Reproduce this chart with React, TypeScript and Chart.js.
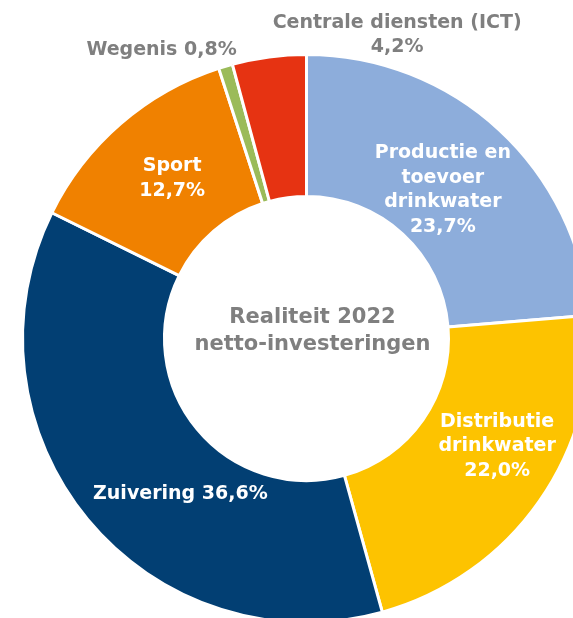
import React, { useEffect, useRef } from "react";
import { Chart, registerables } from "chart.js";

Chart.register(...registerables);

const categories = [
  "Productie en toevoer drinkwater",
  "Distributie drinkwater",
  "Zuivering",
  "Sport",
  "Wegenis",
  "Centrale diensten (ICT)",
];
const shares = [23.7, 22.0, 36.6, 12.7, 0.8, 4.2];
const sliceColors = ["#8DADDB", "#FDC300", "#023F73", "#F08100", "#9BBB59", "#E63312"];
const nameLines = [
  ["Productie en", "toevoer", "drinkwater"],
  ["Distributie", "drinkwater"],
  ["Zuivering"],
  ["Sport"],
  ["Wegenis"],
  ["Centrale diensten (ICT)"],
];
const percentOnSameLine = [false, false, true, false, true, false];
const centerLines = ["Realiteit 2022", "netto-investeringen"];

// label placement: [radial mode (0 = mid ring, 1 = outer edge), dx, dy]
const labelPlacement: [number, number, number][] = [
  [0, -8, 8],
  [0, 16, -14],
  [0, 38, 20],
  [0, 5, 1],
  [1, -64, -16],
  [1, 128, -22],
];
const insideLabel = [true, true, true, true, false, false];

const fmt = (v: number) => v.toFixed(1).replace(".", ",") + "%";

const labelPlugin = {
  id: "sliceLabels",
  afterDatasetsDraw(chart: any) {
    const ctx = chart.ctx;
    const meta = chart.getDatasetMeta(0);
    ctx.save();
    ctx.textAlign = "center";
    ctx.textBaseline = "middle";
    meta.data.forEach((arc: any, i: number) => {
      const p = arc.getProps(["x", "y", "startAngle", "endAngle", "innerRadius", "outerRadius"], true);
      const mid = (p.startAngle + p.endAngle) / 2;
      const [mode, dx, dy] = labelPlacement[i];
      const r = mode === 0 ? (p.innerRadius + p.outerRadius) / 2 : p.outerRadius;
      const ax = p.x + r * Math.cos(mid) + dx;
      const ay = p.y + r * Math.sin(mid) + dy;
      const lines = [...nameLines[i]];
      if (percentOnSameLine[i]) {
        lines[lines.length - 1] = lines[lines.length - 1] + " " + fmt(shares[i]);
      } else {
        lines.push(fmt(shares[i]));
      }
      const lh = 24.5;
      ctx.fillStyle = insideLabel[i] ? "#FFFFFF" : "#7F7F7F";
      ctx.font = "bold 19px 'DejaVu Sans'";
      const y0 = ay - ((lines.length - 1) * lh) / 2;
      lines.forEach((t, k) => ctx.fillText(t, ax, y0 + k * lh));
    });
    // center text
    const c0 = meta.data[0].getProps(["x", "y"], true);
    ctx.fillStyle = "#7F7F7F";
    ctx.font = "bold 21px 'DejaVu Sans'";
    const lh = 27;
    const y0 = c0.y - ((centerLines.length - 1) * lh) / 2;
    centerLines.forEach((t, k) => ctx.fillText(t, c0.x + 6, y0 + k * lh - 7));
    ctx.restore();
  },
};

export default function App() {
  const ref = useRef<HTMLCanvasElement>(null);
  useEffect(() => {
    if (!ref.current) return;
    const chart = new Chart(ref.current, {
      type: "doughnut",
      data: {
        labels: categories,
        datasets: [
          {
            data: shares,
            backgroundColor: sliceColors,
            borderColor: "#FFFFFF",
            borderWidth: 3,
            hoverOffset: 0,
          },
        ],
      },
      options: {
        responsive: false,
        animation: false,
        events: [],
        radius: 284,
        cutout: "50%",
        layout: { padding: 0 },
        plugins: {
          legend: { display: false },
          tooltip: { enabled: false },
        },
      } as any,
      plugins: [labelPlugin],
    });
    return () => chart.destroy();
  }, []);
  return (
    <div
      style={{
        position: "fixed",
        left: 0,
        top: 0,
        width: 573,
        height: 618,
        overflow: "hidden",
        background: "#FFFFFF",
      }}
    >
      <canvas ref={ref} width={613} height={677} style={{ position: "absolute", left: 0, top: 0 }} />
    </div>
  );
}
